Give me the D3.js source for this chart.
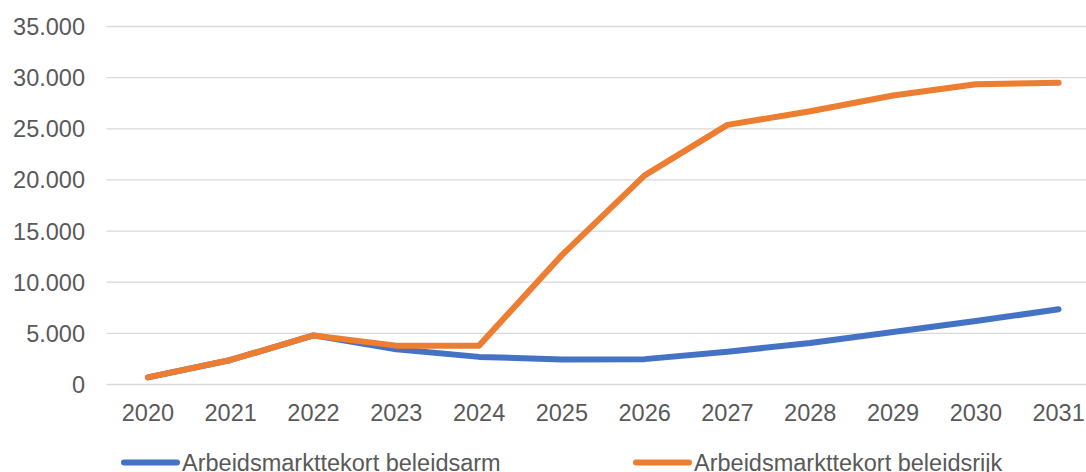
<!DOCTYPE html>
<meta charset="utf-8">
<script src="https://d3js.org/d3.v7.min.js"></script>
<style>
  body { margin: 0; background: #fff; }
  text { font-family: "Liberation Sans", Arial, sans-serif; fill: #595959; }
</style>
<div id="chart"></div>
<script>
  // chart data
  const years = ["2020", "2021", "2022", "2023", "2024", "2025", "2026", "2027", "2028", "2029", "2030", "2031"];
  const beleidsarm = [700, 2400, 4800, 3450, 2700, 2450, 2480, 3200, 4060, 5130, 6200, 7350];
  const beleidsrijk = [700, 2400, 4800, 3800, 3800, 12650, 20450, 25380, 26720, 28250, 29350, 29500];
  const yTicks = [0, 5000, 10000, 15000, 20000, 25000, 30000, 35000];
  const seriesNames = ["Arbeidsmarkttekort beleidsarm", "Arbeidsmarkttekort beleidsrijk"];
  const colors = ["#4472C4", "#ED7D31"];

  const width = 1086, height = 472;

  const svg = d3.select("#chart")
    .append("svg")
    .attr("width", width)
    .attr("height", height);

  const x = d3.scaleBand()
    .domain(years)
    .range([106.5, 1100]);

  const y = d3.scaleLinear()
    .domain([0, 35000])
    .range([384.5, 26.5]);

  const fmt = d => d3.format(",")(d).replace(/,/g, ".");

  // gridlines
  svg.append("g")
    .selectAll("line")
    .data(yTicks)
    .join("line")
    .attr("x1", 106.5)
    .attr("x2", 1100)
    .attr("y1", d => y(d))
    .attr("y2", d => y(d))
    .attr("stroke", "#d9d9d9")
    .attr("stroke-width", 1.3);

  // y labels
  svg.append("g")
    .selectAll("text")
    .data(yTicks)
    .join("text")
    .attr("x", 85)
    .attr("y", d => y(d))
    .attr("dy", "0.36em")
    .attr("text-anchor", "end")
    .style("font-size", "23.5px")
    .text(fmt);

  // x labels
  svg.append("g")
    .selectAll("text")
    .data(years)
    .join("text")
    .attr("x", d => x(d) + x.bandwidth() / 2)
    .attr("y", 421)
    .attr("text-anchor", "middle")
    .style("font-size", "23.5px")
    .text(d => d);

  const line = d3.line()
    .x((d, i) => x(years[i]) + x.bandwidth() / 2)
    .y(d => y(d));

  [beleidsarm, beleidsrijk].forEach((s, i) => {
    svg.append("path")
      .datum(s)
      .attr("fill", "none")
      .attr("stroke", colors[i])
      .attr("stroke-width", 6)
      .attr("stroke-linejoin", "round")
      .attr("stroke-linecap", "round")
      .attr("d", line);
  });

  // legend
  const legendX = [124, 636];
  const legend = svg.append("g")
    .selectAll("g")
    .data(seriesNames)
    .join("g")
    .attr("transform", (d, i) => `translate(${legendX[i]},462.5)`);

  legend.append("line")
    .attr("x1", 0)
    .attr("x2", 53)
    .attr("stroke", (d, i) => colors[i])
    .attr("stroke-width", 6)
    .attr("stroke-linecap", "round");

  legend.append("text")
    .attr("x", 58)
    .attr("y", 8)
    .style("font-size", "23.5px")
    .text(d => d);
</script>
